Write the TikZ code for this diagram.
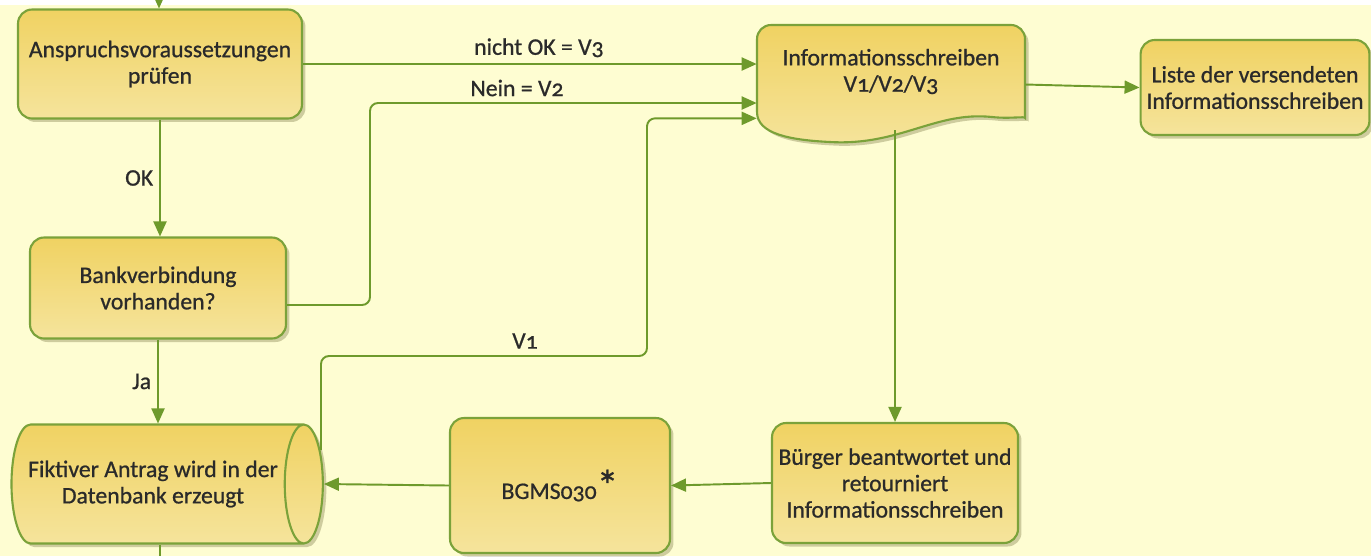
\documentclass[tikz,border=0pt]{standalone}
\usepackage{fontspec}
\setmainfont{Carlito}[Numbers=OldStyle, FakeBold=0.8]
\usetikzlibrary{arrows.meta,shapes.geometric,shadows,calc}

\definecolor{paper}{HTML}{FEFDD2}
\definecolor{boxtop}{HTML}{F0D262}
\definecolor{boxbot}{HTML}{F5E49C}
\definecolor{rim}{HTML}{7BA23A}
\definecolor{wire}{HTML}{6E9A2C}
\definecolor{ink}{HTML}{2A2A2A}

\tikzset{
	boxlook/.style={draw=rim, line width=1.2pt, top color=boxtop, bottom color=boxbot,
		drop shadow={shadow xshift=0.07cm, shadow yshift=-0.07cm, fill=olive!60!black, opacity=0.3}},
	flowbox/.style={boxlook, rounded corners=0.28cm, align=center, text=ink},
	dbbox/.style={boxlook, cylinder, shape border rotate=0, shape aspect=0.65, align=center, text=ink},
	wire/.style={draw=wire, line width=1.1pt, -{Triangle[length=0.3cm,width=0.26cm]}},
	wireplain/.style={draw=wire, line width=1.1pt},
	tag/.style={text=ink}
}

\begin{document}
\begin{tikzpicture}[x=0.02cm, y=-0.02cm, font=\fontsize{13.5}{15}\selectfont]
	
	% background
	\useasboundingbox (0,0) rectangle (1371,556);
	\fill[paper] (0,5) rectangle (1371,556);
	
	% 1. left column
	\node[flowbox, minimum width=5.68cm, minimum height=2.18cm] (pruefen) at (160,64) {Anspruchsvoraussetzungen\\prüfen};
	\node[flowbox, minimum width=5.12cm, minimum height=2.02cm] (bank) at (158,288) {Bankverbindung\\vorhanden?};
	\node[dbbox, minimum width=2.38cm, minimum height=6.08cm] (antrag) at (153,484) {Fiktiver Antrag wird in der\\Datenbank erzeugt};
	
	% 2. letter (document shape) and list
	\draw[boxlook] (1025,104) .. controls (1025,116) and (1010,119) .. (992,117)
		.. controls (935,111) and (900,146) .. (830,142)
		.. controls (790,140) and (757,134) .. (757,112)
		[rounded corners=0.28cm] -- (757,25) -- (1025,25) -- cycle;
	\node[align=center, text=ink, minimum width=5.36cm, minimum height=1.86cm] (info) at (891,71.5) {Informationsschreiben\\V1/V2/V3};
	\node[flowbox, minimum width=4.52cm, minimum height=1.9cm] (liste) at (1255,87.5) {Liste der versendeten\\Informationsschreiben};
	
	% 3. bottom row
	\node[flowbox, minimum width=4.92cm, minimum height=2.4cm] (buerger) at (895,483) {Bürger beantwortet und\\retourniert\\Informationsschreiben};
	\node[flowbox, minimum width=4.4cm, minimum height=2.7cm] (bgms) at (560,485.5) {BGMS030{\Huge\raisebox{-1pt}{*}}};
	
	% --- connectors ---
	\coordinate (von) at (159,0);
	\coordinate (weiter) at (160,556);
	\coordinate (v1start) at (321,450);
	\draw[wire] (von) -- (von |- pruefen.north);
	\draw[wire] (pruefen.south) -- node[tag, left] {OK} (pruefen.south |- bank.north);
	\draw[wire] (bank.south) -- node[tag, left] {Ja} (bank.south |- antrag.north);
	\draw[wireplain] (antrag.south -| weiter) -- (weiter);
	
	\draw[wire] (pruefen.east) -- node[tag, above, pos=0.52] {nicht OK = V3} (pruefen.east -| info.west);
	\draw[wire, rounded corners=0.16cm] ($(bank.east)+(0,17)$) -| (370,103) -- (info.west |- 0,103);
	\draw[wire, rounded corners=0.16cm] (v1start) |- (647,356) |- (info.south west);
	\node[tag] (lblV2) at (517,88) {Nein = V2};
	\node[tag] (lblV1) at (525,341) {V1};
	
	\draw[wire] ($(info.east)+(0,13)$) -- (liste.west);
	\draw[wire] ($(info.south -| buerger.north)+(0,12)$) -- (buerger.north);
	\draw[wire] (buerger.west) -- (bgms.east);
	\draw[wire] (bgms.west) -- (antrag.east);
	
\end{tikzpicture}
\end{document}
